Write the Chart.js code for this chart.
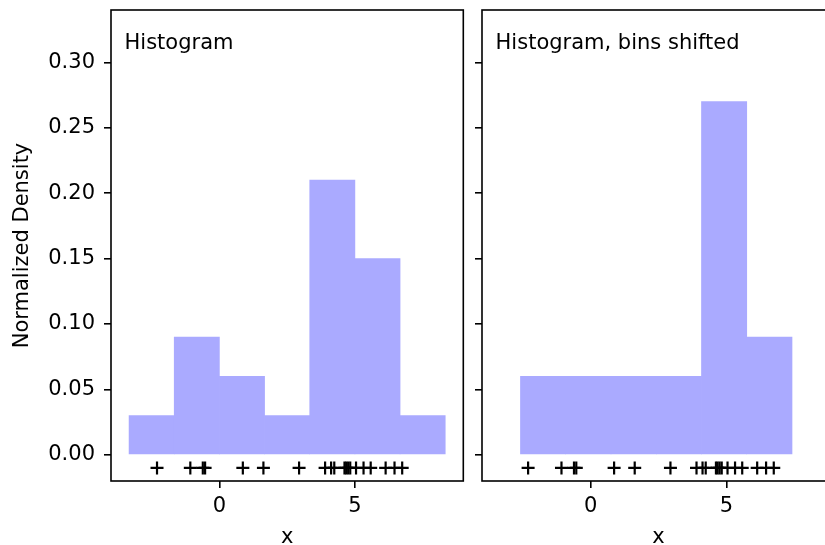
<!DOCTYPE html>
<html>
<head>
<meta charset="utf-8">
<script src="https://cdn.jsdelivr.net/npm/chart.js@4/dist/chart.umd.min.js"></script>
<style>
  html, body { margin: 0; padding: 0; background: #fff; overflow: hidden; width: 825px; height: 545px; }
  .panel { position: absolute; top: 0; height: 545px; }
  #left { left: 0; width: 472px; }
  #right { left: 472px; width: 372px; }
</style>
</head>
<body>
<div class="panel" id="left"><canvas id="histA" width="472" height="545"></canvas></div>
<div class="panel" id="right"><canvas id="histB" width="372" height="545"></canvas></div>
<script>
// Sample points shown as the rug of "+" marks under each histogram
const samples = [1.624, -0.612, -0.528, -1.073, 0.865, -2.302,
                 6.745, 4.239, 5.319, 4.751, 6.462, 2.940, 4.678,
                 4.616, 6.134, 3.900, 4.828, 4.122, 5.042, 5.583];

// Regular bins and their normalized densities
const binEdges = [-5, -3.333, -1.667, 0, 1.667, 3.333, 5, 6.667, 8.333, 10];
const binDensity = [0, 0.03, 0.09, 0.06, 0.03, 0.21, 0.15, 0.03, 0];

// Same bins shifted right by 0.75
const shiftedEdges = [-4.25, -2.583, -0.917, 0.75, 2.417, 4.083, 5.75, 7.417, 9.083, 10.75];
const shiftedDensity = [0, 0.06, 0.06, 0.06, 0.06, 0.27, 0.09, 0, 0];

const panelTitles = ['Histogram', 'Histogram, bins shifted'];
const xTickValues = [0, 5];
const yTickValues = [0, 0.05, 0.10, 0.15, 0.20, 0.25, 0.30];
const rugLevel = -0.01;

const FONT = 'DejaVu Sans';
const FSIZE = 21;
Chart.defaults.font.family = FONT;
Chart.defaults.font.size = FSIZE;
Chart.defaults.color = '#000';

// Frame around the plot area plus the panel caption placed in data coordinates
const framePlugin = {
  id: 'frame',
  afterDatasetsDraw(chart, args, opts) {
    const { ctx, chartArea: a, scales } = chart;
    ctx.save();
    ctx.strokeStyle = '#000';
    ctx.lineWidth = 1.6;
    ctx.strokeRect(a.left, a.top, a.right - a.left, a.bottom - a.top);
    ctx.fillStyle = '#000';
    ctx.font = FSIZE + 'px "' + FONT + '"';
    ctx.textBaseline = 'alphabetic';
    ctx.textAlign = 'left';
    ctx.fillText(opts.text, scales.x.getPixelForValue(-3.5), scales.y.getPixelForValue(0.31));
    ctx.restore();
  }
};

function makePanel(canvasId, edges, density, title, showYLabels, yWidth, padRight) {
  // one bar per non-empty bin, centred on the bin
  const bins = density
    .map((d, i) => ({ x: (edges[i] + edges[i + 1]) / 2, y: d }))
    .filter(b => b.y > 0);
  return new Chart(document.getElementById(canvasId), {
    type: 'bar',
    data: {
      datasets: [
        {
          type: 'bar',
          data: bins,
          backgroundColor: '#AAAAFF',
          borderWidth: 0,
          barPercentage: 1,
          categoryPercentage: 1
        },
        {
          type: 'scatter',
          data: samples.map(v => ({ x: v, y: rugLevel })),
          pointStyle: 'cross',
          pointRadius: 6.5,
          borderColor: '#000',
          borderWidth: 2.2,
          showLine: false
        }
      ]
    },
    options: {
      responsive: false,
      devicePixelRatio: 1,
      animation: false,
      events: [],
      layout: { padding: { top: 10, right: padRight, left: 0, bottom: 0 } },
      plugins: {
        legend: { display: false },
        tooltip: { enabled: false },
        frame: { text: title }
      },
      scales: {
        x: {
          type: 'linear',
          min: -4,
          max: 9,
          offset: false,
          afterBuildTicks: s => { s.ticks = xTickValues.map(v => ({ value: v })); },
          afterFit: s => { s.height = 64; s.paddingLeft = 0; s.paddingRight = 0; },
          ticks: { padding: 6, color: '#000', callback: v => String(v), maxRotation: 0 },
          grid: { offset: false, drawOnChartArea: false, drawTicks: true, tickLength: 7, color: '#000', lineWidth: 1.6 },
          border: { display: false },
          title: { display: true, text: 'x', color: '#000', font: { size: FSIZE, lineHeight: 1 }, padding: { top: 0, bottom: -3 } }
        },
        y: {
          type: 'linear',
          min: -0.02,
          max: 0.34,
          afterBuildTicks: s => { s.ticks = yTickValues.map(v => ({ value: v })); },
          afterFit: s => { s.width = yWidth; s.paddingTop = 0; s.paddingBottom = 0; },
          ticks: { display: showYLabels, padding: 9, color: '#000', callback: v => Number(v).toFixed(2) },
          grid: { drawOnChartArea: false, drawTicks: true, tickLength: 7, color: '#000', lineWidth: 1.6 },
          border: { display: false },
          title: {
            display: showYLabels, text: 'Normalized Density', color: '#000',
            font: { size: FSIZE, lineHeight: 1 }, padding: { top: 12.5, bottom: 0 }
          }
        }
      }
    },
    plugins: [framePlugin]
  });
}

makePanel('histA', binEdges, binDensity, panelTitles[0], true, 111, 8);
makePanel('histB', shiftedEdges, shiftedDensity, panelTitles[1], false, 10, 9);
</script>
</body>
</html>
